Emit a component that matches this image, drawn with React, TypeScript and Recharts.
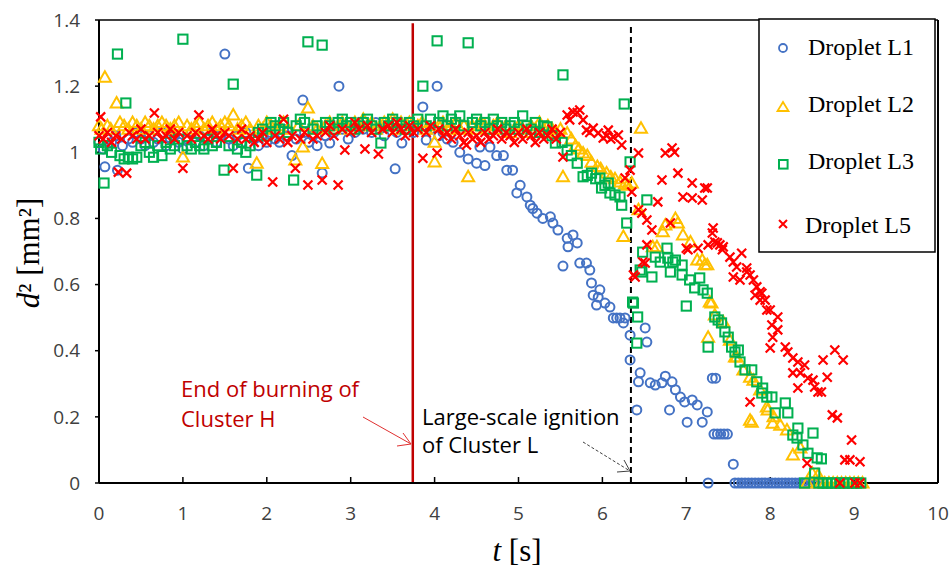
import { ScatterChart, Scatter, XAxis, YAxis, ReferenceLine } from "recharts"

type Pt = [number, number]

// Droplet L1 (blue circles)
const l1Plateau: Pt[] = [
	[0.0, 1.03], [0.05, 1.01], [0.07, 0.956], [0.1, 1.04], [0.15, 1.03], [0.2, 1.05], [0.22, 0.946],
	[0.28, 1.02], [0.35, 1.04], [0.4, 1.03], [0.45, 1.06], [0.5, 1.04], [0.55, 1.02], [0.6, 1.05],
	[0.65, 1.03], [0.7, 1.04], [0.75, 1.06], [0.8, 1.02], [0.85, 1.04], [0.9, 1.05], [0.95, 1.03],
	[1.0, 1.01], [1.05, 1.04], [1.1, 1.06], [1.15, 1.03], [1.2, 1.05], [1.25, 1.02], [1.3, 1.04],
	[1.35, 1.06], [1.4, 1.03], [1.45, 1.05], [1.5, 1.297], [1.55, 1.04], [1.6, 1.02], [1.65, 1.05],
	[1.7, 1.03], [1.75, 1.06], [1.78, 0.952], [1.85, 1.04], [1.9, 1.02], [1.95, 1.05], [2.0, 1.03],
	[2.05, 1.06], [2.1, 1.04], [2.15, 1.03], [2.2, 1.07], [2.25, 1.05], [2.3, 0.99], [2.35, 1.04],
	[2.43, 1.158], [2.45, 1.06], [2.5, 1.03], [2.55, 1.05], [2.6, 1.02], [2.66, 0.937], [2.7, 1.05],
	[2.75, 1.028], [2.8, 1.06], [2.86, 1.2], [2.9, 1.07], [2.97, 1.04], [3.0, 1.08], [3.05, 1.06],
	[3.1, 1.09], [3.15, 1.07], [3.2, 1.08], [3.25, 1.06], [3.3, 1.09], [3.35, 1.07], [3.4, 1.05],
	[3.45, 1.08], [3.53, 0.95], [3.55, 1.06], [3.61, 1.028], [3.65, 1.07], [3.7, 1.09], [3.75, 1.06],
	[3.8, 1.08], [3.86, 1.137], [3.9, 1.037], [3.95, 1.07], [4.03, 1.2], [4.05, 1.05], [4.1, 1.06],
	[4.15, 1.04],
]
const l1Decay: Pt[] = [
	[4.22, 1.03], [4.3, 1.0], [4.4, 0.98], [4.5, 0.967], [4.54, 1.016], [4.6, 0.96], [4.66, 1.016],
	[4.74, 0.99], [4.82, 0.99], [4.86, 0.946], [4.93, 0.946], [4.98, 0.877], [5.02, 0.9], [5.1, 0.865],
	[5.14, 0.84], [5.17, 0.83], [5.22, 0.816], [5.29, 0.8], [5.38, 0.805], [5.41, 0.786], [5.47, 0.765],
	[5.53, 0.656], [5.58, 0.74], [5.59, 0.714], [5.65, 0.75], [5.7, 0.726], [5.73, 0.665], [5.81, 0.665],
	[5.85, 0.644], [5.87, 0.605], [5.89, 0.568], [5.93, 0.538], [5.95, 0.562], [5.97, 0.584], [6.03, 0.544],
	[6.09, 0.532], [6.13, 0.499], [6.17, 0.499], [6.21, 0.499], [6.25, 0.484], [6.27, 0.499], [6.33, 0.447],
	[6.33, 0.372], [6.41, 0.221], [6.43, 0.306], [6.45, 0.333], [6.51, 0.469], [6.53, 0.426], [6.57, 0.303],
	[6.63, 0.296], [6.71, 0.303], [6.75, 0.323], [6.8, 0.221], [6.83, 0.306], [6.87, 0.282], [6.93, 0.26],
	[6.98, 0.245], [7.01, 0.184], [7.07, 0.251], [7.13, 0.236], [7.19, 0.184], [7.25, 0.215], [7.26, 0.0],
	[7.31, 0.317], [7.35, 0.317], [7.33, 0.148], [7.37, 0.148], [7.41, 0.148], [7.45, 0.148], [7.49, 0.148],
	[7.56, 0.057],
]
const l1Zero = [
	7.58, 7.62, 7.66, 7.7, 7.74, 7.78, 7.82, 7.86, 7.9, 7.94, 7.98, 8.02, 8.06, 8.1, 8.14, 8.18, 8.22,
	8.26, 8.3, 8.34, 8.38, 8.42, 8.46, 8.5, 8.54,
]

// Droplet L2 (yellow triangles)
const l2Plateau: Pt[] = [
	[0.0, 1.08], [0.03, 1.07], [0.07, 1.227], [0.1, 1.08], [0.14, 1.07], [0.21, 1.149], [0.25, 1.09],
	[0.3, 1.08], [0.35, 1.07], [0.4, 1.09], [0.45, 1.08], [0.5, 1.07], [0.55, 1.09], [0.6, 1.08],
	[0.65, 1.07], [0.7, 1.08], [0.75, 1.09], [0.8, 1.08], [0.85, 1.07], [0.9, 1.08], [0.95, 1.09],
	[1.0, 0.986], [1.05, 1.08], [1.1, 1.07], [1.15, 1.08], [1.2, 1.09], [1.25, 1.07], [1.3, 1.08],
	[1.35, 1.09], [1.4, 1.07], [1.45, 1.08], [1.5, 1.09], [1.55, 1.08], [1.6, 1.113], [1.65, 1.07],
	[1.7, 1.08], [1.75, 1.09], [1.8, 1.07], [1.88, 0.967], [1.9, 1.08], [1.95, 1.07], [2.0, 1.09],
	[2.05, 1.08], [2.1, 1.07], [2.15, 1.08], [2.2, 1.09], [2.25, 1.07], [2.34, 0.977], [2.38, 1.08],
	[2.43, 1.016], [2.49, 1.134], [2.55, 1.08], [2.6, 1.07], [2.66, 0.966], [2.7, 1.08], [2.75, 1.09],
	[2.8, 1.07], [2.85, 1.08], [2.9, 1.09], [2.95, 1.08], [3.0, 1.07], [3.05, 1.09], [3.1, 1.08],
	[3.15, 1.1], [3.2, 1.08], [3.25, 1.09], [3.3, 1.07], [3.35, 1.08], [3.4, 1.09], [3.45, 1.08],
	[3.5, 1.1], [3.55, 1.07], [3.6, 1.09], [3.65, 1.08], [3.7, 1.09], [3.8, 1.08], [3.85, 1.09],
	[3.9, 1.07], [4.0, 1.03], [4.0, 0.971], [4.05, 1.08], [4.1, 1.09], [4.15, 1.07], [4.2, 1.08],
	[4.25, 1.09], [4.3, 1.07], [4.35, 1.08], [4.4, 0.926], [4.45, 1.08], [4.5, 1.07], [4.55, 1.09],
	[4.6, 1.08], [4.65, 1.07], [4.7, 1.08], [4.75, 1.09], [4.8, 1.07], [4.85, 1.08], [4.9, 1.06],
	[4.95, 1.07], [5.0, 1.08], [5.05, 1.07], [5.1, 1.06], [5.15, 1.08], [5.2, 1.07], [5.25, 1.09],
	[5.3, 1.07], [5.35, 1.08], [5.4, 1.07], [5.45, 1.06], [5.5, 1.07], [5.53, 0.926],
]
const l2Decay: Pt[] = [
	[5.58, 1.058], [5.63, 1.04], [5.68, 1.02], [5.72, 1.01], [5.77, 0.998], [5.82, 0.99], [5.87, 0.97],
	[5.94, 0.957], [5.98, 0.95], [6.05, 0.937], [6.1, 0.925], [6.15, 0.92], [6.21, 0.91], [6.27, 0.905],
	[6.3, 0.9], [6.35, 0.907], [6.25, 0.745], [6.43, 0.826], [6.46, 1.073], [6.6, 0.714], [6.65, 0.714],
	[6.72, 0.76], [6.75, 0.78], [6.87, 0.8], [6.9, 0.786], [6.96, 0.75], [7.05, 0.729], [7.13, 0.674],
	[7.19, 0.674], [7.22, 0.66], [7.25, 0.66], [7.26, 0.441], [7.28, 0.547], [7.3, 0.544], [7.34, 0.508],
	[7.44, 0.487], [7.52, 0.432], [7.58, 0.381], [7.6, 0.381], [7.68, 0.342], [7.76, 0.32], [7.76, 0.19],
	[7.78, 0.184], [7.8, 0.311], [7.88, 0.281], [7.96, 0.23], [7.97, 0.221], [8.03, 0.181], [8.04, 0.2],
	[8.12, 0.175], [8.2, 0.16], [8.27, 0.085], [8.36, 0.106], [8.44, 0.0], [8.5, 0.03], [8.57, 0.024],
	[8.6, 0.0], [8.65, 0.0], [8.7, 0.0], [8.75, 0.0], [8.8, 0.0], [8.85, 0.0], [8.9, 0.0], [8.95, 0.0],
	[9.0, 0.0], [9.05, 0.0], [9.1, 0.0],
]

// Droplet L3 (green squares)
const l3Plateau: Pt[] = [
	[0.0, 1.03], [0.02, 1.01], [0.06, 0.907], [0.1, 1.02], [0.15, 1.0], [0.22, 1.297], [0.25, 0.99],
	[0.32, 1.149], [0.3, 0.98], [0.35, 0.985], [0.4, 0.98], [0.45, 0.985], [0.5, 1.02], [0.55, 1.03],
	[0.6, 1.0], [0.65, 0.985], [0.7, 1.02], [0.75, 0.99], [0.8, 1.03], [0.85, 1.01], [0.9, 1.02],
	[0.95, 1.04], [1.0, 1.342], [1.05, 1.02], [1.1, 1.01], [1.15, 1.03], [1.2, 1.02], [1.25, 1.01],
	[1.3, 1.04], [1.35, 1.02], [1.4, 1.03], [1.49, 0.946], [1.55, 1.02], [1.6, 1.206], [1.65, 1.01],
	[1.7, 1.03], [1.75, 1.0], [1.8, 1.02], [1.88, 0.931], [1.9, 1.06], [1.95, 1.07], [2.0, 1.05],
	[2.05, 1.09], [2.1, 1.08], [2.15, 1.07], [2.2, 1.09], [2.25, 1.06], [2.32, 0.916], [2.35, 1.08],
	[2.4, 1.1], [2.45, 1.09], [2.49, 1.334], [2.55, 1.07], [2.6, 1.08], [2.66, 1.324], [2.7, 1.09],
	[2.75, 1.08], [2.8, 1.07], [2.85, 1.09], [2.9, 1.1], [2.95, 1.08], [3.0, 1.09], [3.05, 1.07],
	[3.1, 1.08], [3.15, 1.09], [3.2, 1.1], [3.25, 1.08], [3.3, 1.07], [3.36, 1.028], [3.4, 1.09],
	[3.45, 1.08], [3.5, 1.1], [3.55, 1.09], [3.6, 1.08], [3.65, 1.07], [3.7, 1.09], [3.75, 1.08],
	[3.8, 1.1], [3.86, 1.2], [3.9, 1.08], [3.95, 1.1], [4.03, 1.337], [4.05, 1.09], [4.1, 1.11],
	[4.15, 1.08], [4.2, 1.1], [4.25, 1.09], [4.3, 1.11], [4.35, 1.08], [4.4, 1.331], [4.45, 1.09],
	[4.5, 1.1], [4.55, 1.08], [4.6, 1.09], [4.65, 1.07], [4.7, 1.1], [4.75, 1.08], [4.8, 1.09],
	[4.85, 1.07], [4.9, 1.08], [4.95, 1.09], [5.0, 1.07], [5.05, 1.11], [5.1, 1.08], [5.15, 1.07],
	[5.2, 1.09], [5.25, 1.06], [5.3, 1.08], [5.34, 1.077], [5.4, 1.05], [5.53, 1.234],
]
const l3Decay: Pt[] = [
	[5.44, 1.028], [5.52, 1.03], [5.58, 1.007], [5.63, 0.99], [5.7, 0.967], [5.77, 0.926], [5.82, 0.93],
	[5.87, 0.937], [5.92, 0.92], [5.97, 0.922], [5.99, 0.892], [6.03, 0.9], [6.07, 0.907], [6.09, 0.877],
	[6.15, 0.871], [6.21, 0.865], [6.23, 0.84], [6.26, 1.146], [6.29, 0.786], [6.33, 0.971], [6.36, 0.547],
	[6.37, 0.544], [6.41, 0.423], [6.42, 0.502], [6.45, 0.644], [6.47, 0.638], [6.48, 0.698], [6.53, 0.856],
	[6.59, 0.623], [6.63, 0.683], [6.69, 0.668], [6.77, 0.71], [6.78, 0.68], [6.81, 0.638], [6.84, 0.668],
	[6.87, 0.674], [6.95, 0.659], [6.95, 0.629], [7.0, 0.535], [7.04, 0.614], [7.1, 0.59], [7.16, 0.62],
	[7.2, 0.584], [7.25, 0.574], [7.26, 0.411], [7.34, 0.502], [7.38, 0.493], [7.42, 0.484], [7.46, 0.457],
	[7.5, 0.441], [7.54, 0.411], [7.58, 0.396], [7.62, 0.402], [7.64, 0.366], [7.7, 0.342], [7.78, 0.342],
	[7.84, 0.306], [7.9, 0.272], [7.91, 0.287], [7.96, 0.26], [8.02, 0.26], [8.06, 0.212], [8.18, 0.242],
	[8.21, 0.212], [8.27, 0.145], [8.32, 0.136], [8.33, 0.166], [8.39, 0.115], [8.45, 0.09], [8.51, 0.151],
	[8.53, 0.03], [8.56, 0.076], [8.61, 0.073], [8.41, 0.0], [8.58, 0.0], [8.63, 0.0], [8.68, 0.0],
	[8.73, 0.0], [8.78, 0.0], [8.83, 0.0], [8.88, 0.0], [8.93, 0.0], [8.98, 0.0], [9.03, 0.0], [9.08, 0.0],
]

// Droplet L5 (red crosses)
const l5Plateau: Pt[] = [
	[0.0, 1.05], [0.02, 1.107], [0.05, 1.04], [0.1, 1.06], [0.15, 1.03], [0.2, 1.05], [0.23, 0.94],
	[0.27, 1.04], [0.33, 0.937], [0.36, 1.06], [0.4, 1.05], [0.45, 1.04], [0.5, 1.07], [0.55, 1.04],
	[0.6, 1.05], [0.66, 1.119], [0.7, 1.06], [0.75, 1.04], [0.8, 1.05], [0.85, 1.07], [0.9, 1.04],
	[0.95, 1.06], [1.0, 0.952], [1.05, 1.05], [1.1, 1.04], [1.15, 1.06], [1.19, 1.113], [1.25, 1.05],
	[1.3, 1.04], [1.35, 1.07], [1.4, 1.05], [1.45, 1.04], [1.5, 1.06], [1.55, 1.05], [1.6, 0.952],
	[1.65, 1.04], [1.7, 1.07], [1.75, 1.04], [1.8, 1.05], [1.85, 1.03], [1.9, 1.04], [1.95, 1.06],
	[2.0, 1.03], [2.07, 0.91], [2.1, 1.05], [2.15, 1.04], [2.2, 1.1], [2.25, 1.03], [2.3, 1.05],
	[2.34, 0.952], [2.4, 1.04], [2.45, 1.06], [2.49, 0.901], [2.55, 1.04], [2.6, 1.05], [2.66, 0.916],
	[2.7, 1.06], [2.75, 1.08], [2.8, 1.05], [2.85, 0.901], [2.9, 1.07], [2.93, 1.007], [3.0, 1.06],
	[3.05, 1.09], [3.1, 1.07], [3.17, 1.01], [3.2, 1.08], [3.25, 1.06], [3.33, 0.995], [3.38, 1.07],
	[3.45, 1.08], [3.5, 1.06], [3.55, 1.09], [3.6, 1.07], [3.65, 1.05], [3.7, 1.08], [3.75, 1.06],
	[3.8, 1.07], [3.86, 0.982], [3.9, 1.06], [3.95, 1.08], [4.03, 0.998], [4.05, 1.07], [4.1, 1.05],
	[4.15, 1.06], [4.2, 1.04], [4.25, 1.07], [4.3, 1.05], [4.35, 1.03], [4.38, 1.022], [4.4, 1.06],
	[4.45, 1.04], [4.5, 1.05], [4.55, 1.03], [4.6, 1.06], [4.65, 1.04], [4.7, 1.05], [4.75, 1.07],
	[4.8, 1.04], [4.85, 1.06], [4.9, 1.05], [4.95, 1.03], [5.0, 1.06], [5.05, 1.04], [5.1, 1.07],
	[5.15, 1.05], [5.2, 1.03], [5.25, 1.06], [5.3, 1.04], [5.35, 1.05], [5.4, 1.07], [5.45, 1.04],
	[5.5, 1.06],
]
const l5Decay: Pt[] = [
	[5.53, 0.986], [5.58, 1.113], [5.61, 1.098], [5.65, 1.122], [5.7, 1.12], [5.73, 1.128], [5.77, 1.098],
	[5.81, 1.067], [5.85, 1.06], [5.89, 1.073], [5.95, 1.058], [6.01, 1.043], [6.05, 1.05], [6.07, 1.067],
	[6.1, 1.04], [6.13, 1.046], [6.19, 1.052], [6.23, 1.022], [6.27, 0.922], [6.33, 0.946], [6.35, 0.88],
	[6.37, 0.629], [6.39, 0.623], [6.43, 0.998], [6.43, 0.826], [6.47, 0.816], [6.48, 0.668], [6.51, 0.665],
	[6.53, 0.795], [6.53, 0.72], [6.59, 0.765], [6.66, 0.85], [6.71, 0.916], [6.75, 0.998], [6.81, 0.786],
	[6.83, 1.013], [6.86, 1.0], [6.9, 0.937], [6.96, 0.865], [7.0, 0.71], [7.02, 0.705], [7.07, 0.907],
	[7.07, 0.862], [7.14, 0.71], [7.19, 0.856], [7.22, 0.892], [7.25, 0.892], [7.26, 0.72], [7.31, 0.756],
	[7.32, 0.771], [7.34, 0.729], [7.37, 0.726], [7.4, 0.72], [7.43, 0.705], [7.44, 0.714], [7.52, 0.683],
	[7.56, 0.668], [7.56, 0.623], [7.6, 0.653], [7.64, 0.614], [7.66, 0.695], [7.72, 0.65], [7.72, 0.638],
	[7.76, 0.629], [7.76, 0.245], [7.8, 0.614], [7.82, 0.568], [7.84, 0.593], [7.88, 0.578], [7.88, 0.553],
	[7.9, 0.574], [7.94, 0.553], [7.96, 0.523], [8.0, 0.523], [8.0, 0.408], [8.02, 0.478], [8.03, 0.441],
	[8.09, 0.502], [8.09, 0.463], [8.18, 0.411], [8.21, 0.396], [8.27, 0.378], [8.27, 0.333], [8.33, 0.366],
	[8.33, 0.287], [8.36, 0.333], [8.41, 0.357], [8.44, 0.06], [8.45, 0.317], [8.51, 0.311], [8.53, 0.29],
	[8.57, 0.275], [8.61, 0.275], [8.63, 0.372], [8.68, 0.32], [8.74, 0.206], [8.77, 0.402], [8.8, 0.197],
	[8.83, 0.0], [8.87, 0.372], [8.89, 0.07], [8.95, 0.07], [8.97, 0.13], [9.01, 0.0], [9.07, 0.064],
	[9.07, 0.0],
]

const xTicks = [0, 1, 2, 3, 4, 5, 6, 7, 8, 9, 10]
const yTicks = [0, 0.2, 0.4, 0.6, 0.8, 1, 1.2, 1.4]
const burnEndT = 3.74 // end of burning of cluster H
const ignitionT = 6.34 // large-scale ignition of cluster L

const BLUE = "#4472C4"
const YELLOW = "#FFC000"
const GREEN = "#00B050"
const RED = "#FF0000"
const DARK_RED = "#C00000"

const rows = (pts: Pt[]) => pts.map(([t, d2]) => ({ t, d2 }))
const l1Data = [...rows(l1Plateau), ...rows(l1Decay), ...l1Zero.map((t) => ({ t, d2: 0 }))]
const l2Data = [...rows(l2Plateau), ...rows(l2Decay)]
const l3Data = [...rows(l3Plateau), ...rows(l3Decay)]
const l5Data = [...rows(l5Plateau), ...rows(l5Decay)]

function CircleMark(p: any) {
	return <circle cx={p.cx} cy={p.cy} r={4.5} fill="none" stroke={BLUE} strokeWidth={2} />
}
function TriangleMark(p: any) {
	const { cx, cy } = p
	return (
		<polygon
			points={`${cx},${cy - 6} ${cx - 6},${cy + 4.5} ${cx + 6},${cy + 4.5}`}
			fill="none"
			stroke={YELLOW}
			strokeWidth={2}
		/>
	)
}
function SquareMark(p: any) {
	return <rect x={p.cx - 4.6} y={p.cy - 4.6} width={9.2} height={9.2} fill="none" stroke={GREEN} strokeWidth={2} />
}
function CrossMark(p: any) {
	const { cx, cy } = p
	return (
		<path d={`M${cx - 4.5},${cy - 4.5}L${cx + 4.5},${cy + 4.5}M${cx - 4.5},${cy + 4.5}L${cx + 4.5},${cy - 4.5}`} stroke={RED} strokeWidth={2.2} />
	)
}

const sans = "'Open Sans', sans-serif"
const serif = "'Liberation Serif', 'Times New Roman', serif"

function Overlay() {
	return (
		<svg width={952} height={570} style={{ position: "absolute", left: 0, top: 0, pointerEvents: "none" }}>
			{/* axis titles */}
			<text transform="translate(39,253) rotate(-90)" textAnchor="middle" fontFamily={serif} fontSize={31} fill="#000">
				<tspan fontStyle="italic">d</tspan>² [mm²]
			</text>
			<text x={517} y={561} textAnchor="middle" fontFamily={serif} fontSize={31} fill="#000">
				<tspan fontStyle="italic">t</tspan> [s]
			</text>

			{/* annotations */}
			<g fontFamily={sans} fontSize={22} fill={DARK_RED}>
				<text x={181} y={397}>End  of burning  of</text>
				<text x={181} y={427}>Cluster H</text>
			</g>
			<g stroke="#E03030" strokeWidth={1} fill="none">
				<line x1={363} y1={417} x2={411} y2={444} />
				<polyline points="403,433 411,444 397,446" />
			</g>
			<g fontFamily={sans} fontSize={22} fill="#000">
				<text x={422} y={425}>Large-scale ignition</text>
				<text x={422} y={453}>of Cluster L</text>
			</g>
			<g stroke="#404040" strokeWidth={1} fill="none">
				<line x1={583} y1={442} x2={630} y2={471} strokeDasharray="3 2" />
				<polyline points="624,460 630,471 617,472" />
			</g>

			{/* legend */}
			<rect x={759} y={19} width={176} height={233} fill="#fff" stroke="#000" strokeWidth={1.5} />
			<circle cx={783} cy={48} r={4} fill="none" stroke={BLUE} strokeWidth={1.8} />
			<polygon points="783,102 777.5,111 788.5,111" fill="none" stroke={YELLOW} strokeWidth={1.8} />
			<rect x={779} y={160} width={8.6} height={8.6} fill="none" stroke={GREEN} strokeWidth={2} />
			<path d="M779,220L787,228M779,228L787,220" stroke={RED} strokeWidth={2} />
			<g fontFamily={serif} fontSize={24} fill="#000">
				<text x={808} y={55}>Droplet L1</text>
				<text x={808} y={112}>Droplet L2</text>
				<text x={808} y={169}>Droplet L3</text>
				<text x={805} y={233}>Droplet L5</text>
			</g>
		</svg>
	)
}

export default function App() {
	return (
		<div style={{ position: "absolute", left: 0, top: 0, width: 952, height: 570, background: "#fff" }}>
			<ScatterChart width={952} height={570} margin={{ top: 20, right: 14, bottom: 57, left: 0 }}>
				<XAxis
					type="number"
					dataKey="t"
					domain={[0, 10]}
					ticks={xTicks}
					height={30}
					axisLine={{ stroke: "#000", strokeWidth: 2 }}
					tickLine={{ stroke: "#000", strokeWidth: 1.5 }}
					tickSize={-6}
					tickMargin={30}
					tick={{ fill: "#404040", fontSize: 19, fontFamily: sans }}
				/>
				<YAxis
					type="number"
					dataKey="d2"
					domain={[0, 1.4]}
					ticks={yTicks}
					width={99}
					axisLine={{ stroke: "#000", strokeWidth: 2 }}
					tickLine={{ stroke: "#000", strokeWidth: 1.5 }}
					tickSize={4}
					tickMargin={15}
					tick={{ fill: "#404040", fontSize: 19, fontFamily: sans }}
				/>
				<Scatter data={l1Data} shape={CircleMark} isAnimationActive={false} />
				<Scatter data={l2Data} shape={TriangleMark} isAnimationActive={false} />
				<Scatter data={l3Data} shape={SquareMark} isAnimationActive={false} />
				<Scatter data={l5Data} shape={CrossMark} isAnimationActive={false} />
				<ReferenceLine y={1.4} stroke="#000" strokeWidth={1.5} />
				<ReferenceLine x={10} stroke="#000" strokeWidth={2} />
				<ReferenceLine
					segment={[{ x: burnEndT, y: 0 }, { x: burnEndT, y: 1.39 }]}
					stroke={DARK_RED}
					strokeWidth={2.5}
				/>
				<ReferenceLine
					segment={[{ x: ignitionT, y: 0 }, { x: ignitionT, y: 1.39 }]}
					stroke="#000"
					strokeWidth={2}
					strokeDasharray="6 4"
				/>
			</ScatterChart>
			<Overlay />
		</div>
	)
}
